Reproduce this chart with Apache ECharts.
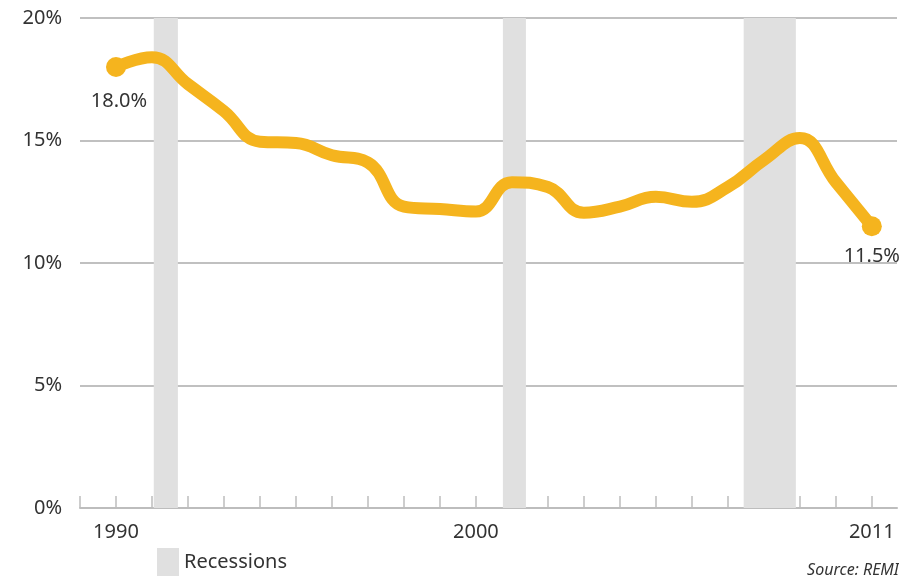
<!DOCTYPE html>
<html>
<head>
<meta charset="utf-8">
<script src="https://cdn.jsdelivr.net/npm/echarts@6/dist/echarts.min.js"></script>
<style>html,body{margin:0;padding:0;background:#fff}#c{width:899px;height:581px}</style>
</head>
<body>
<div id="c"></div>
<script>
var years = [1990,1991,1992,1993,1994,1995,1996,1997,1998,1999,2000,2001,2002,2003,2004,2005,2006,2007,2008,2009,2010,2011];
var values = [18.0,18.4,17.3,16.2,14.95,14.9,14.4,14.1,12.3,12.2,12.1,13.3,13.1,12.05,12.3,12.7,12.5,13.1,14.2,15.1,13.3,11.5];
var recessions = [[1991.05,1991.72],[2000.75,2001.39],[2007.44,2008.89]];
var xLabels = [1990,2000,2011];
var yTicks = [0,5,10,15,20];

var FONT = '"Noto Sans", sans-serif';
var TXT = '#333333';

var lineData = years.map(function(y,i){
  var d = {value:[y, values[i]]};
  if (i === 0 || i === years.length-1) {
    d.symbol = 'circle';
    d.symbolSize = 20;
    d.label = {show:true, position:'bottom', distance: i===0 ? 14 : 10,
      offset: i===0 ? [3,0] : [0,0],
      formatter: values[i].toFixed(1) + '%', fontSize:20, color:TXT, fontFamily:FONT};
  }
  return d;
});

var chart = echarts.init(document.getElementById('c'));
chart.setOption({
  animation:false,
  backgroundColor:'#ffffff',
  grid:{left:80, right:2, top:18, bottom:73},
  xAxis:{
    type:'value', min:1989, max:2011.7, interval:1,
    axisLine:{show:true, lineStyle:{color:'#bdbdbd', width:2}},
    axisTick:{show:true, inside:true, length:12, lineStyle:{color:'#bdbdbd', width:1.5}},
    splitLine:{show:false},
    axisLabel:{
      margin:14, fontSize:20, color:TXT, fontFamily:FONT,
      formatter:function(v){ return xLabels.indexOf(Math.round(v))>=0 ? String(Math.round(v)) : ''; },
      showMinLabel:true, showMaxLabel:false
    }
  },
  yAxis:{
    type:'value', min:yTicks[0], max:yTicks[yTicks.length-1], interval:5,
    axisLine:{show:false}, axisTick:{show:false},
    splitLine:{lineStyle:{color:'#ababab', width:1.5}},
    axisLabel:{margin:18, fontSize:20, color:TXT, fontFamily:FONT, formatter:'{value}%'}
  },
  legend:{
    data:[{name:'Recessions', icon:'rect'}],
    left:152, top:543, itemWidth:22, itemHeight:28, itemGap:10,
    textStyle:{fontSize:20, color:TXT, fontFamily:FONT}
  },
  graphic:[{
    type:'text', right:0, top:562,
    style:{text:'Source: REMI', fontSize:16, fontStyle:'italic', fill:TXT, fontFamily:FONT}
  }],
  series:[
    {
      name:'Recessions', type:'line', data:[], color:'#e0e0e0', silent:true,
      markArea:{silent:true, itemStyle:{color:'#e0e0e0'},
        data: recessions.map(function(r){ return [{xAxis:r[0]},{xAxis:r[1]}]; })}
    },
    {
      name:'Rate', type:'line', data:lineData, smooth:0.45,
      symbol:'none', showSymbol:true, z:5,
      lineStyle:{color:'#F5B41E', width:12, cap:'round', join:'round'},
      itemStyle:{color:'#F5B41E'}
    }
  ]
});
</script>
</body>
</html>
